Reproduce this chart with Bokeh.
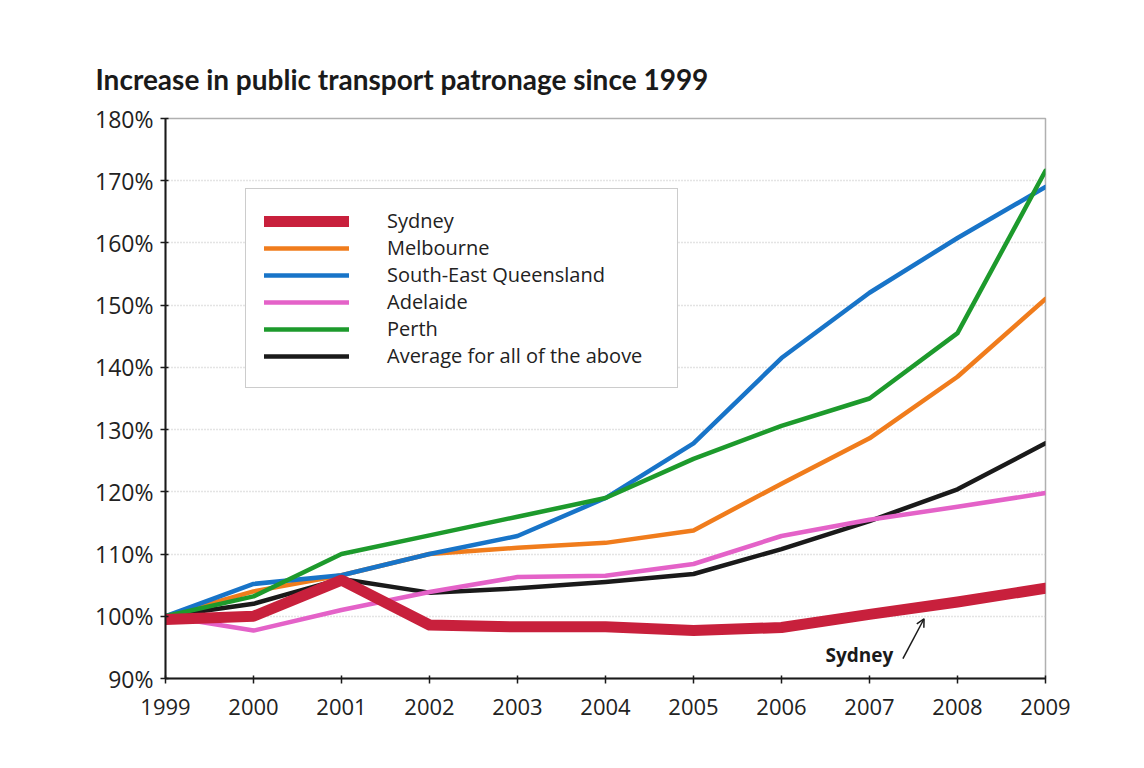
from bokeh.plotting import figure
from bokeh.embed import file_html
from bokeh.resources import INLINE
from bokeh.models import (FixedTicker, PrintfTickFormatter, Legend, LegendItem,
                          Label, Arrow, OpenHead, Range1d)

years = [1999, 2000, 2001, 2002, 2003, 2004, 2005, 2006, 2007, 2008, 2009]
sydney = [99.5, 100.0, 105.8, 98.6, 98.3, 98.3, 97.7, 98.2, 100.3, 102.3, 104.5]
melbourne = [100.0, 104.0, 106.6, 110.0, 111.0, 111.8, 113.8, 121.3, 128.6, 138.5, 151.0]
seq = [100.0, 105.2, 106.6, 110.0, 112.9, 119.0, 127.8, 141.5, 152.0, 160.8, 169.0]
adelaide = [100.0, 97.7, 101.0, 103.9, 106.3, 106.5, 108.4, 112.9, 115.5, 117.6, 119.8]
perth = [100.0, 103.2, 110.0, 113.0, 116.0, 119.0, 125.3, 130.6, 135.0, 145.5, 171.6]
average = [100.0, 102.0, 106.0, 103.8, 104.5, 105.5, 106.8, 110.8, 115.3, 120.4, 127.8]

series_names = ["Sydney", "Melbourne", "South-East Queensland", "Adelaide", "Perth",
                "Average for all of the above"]
series_values = [sydney, melbourne, seq, adelaide, perth, average]
series_colors = ["#c8203c", "#f07c1c", "#1874c8", "#e462c8", "#1d9a2c", "#1a1a1a"]
series_widths = [11, 4.5, 4.5, 4.5, 4.5, 4.5]
y_ticks = [90, 100, 110, 120, 130, 140, 150, 160, 170, 180]
title_text = "Increase in public transport patronage since 1999"

p = figure(width=1128, height=752, output_backend="svg", toolbar_location=None,
           x_range=Range1d(1999, 2009), y_range=Range1d(90, 180),
           min_border_left=165, min_border_right=83, min_border_top=118,
           min_border_bottom=74)

p.title.text = title_text
p.title.text_font = "Lato"
p.title.text_font_size = "28px"
p.title.text_font_style = "bold"
p.title.text_color = "#1a1a1a"
p.title.align = "left"
p.title.offset = -70
p.title.standoff = 45

# drawing order: average, pink, orange, blue, green, sydney on top
order = [5, 3, 1, 2, 4, 0]
renderers = {}
for i in order:
    r = p.line(years, series_values[i], line_color=series_colors[i],
               line_width=series_widths[i], line_join="round", line_cap="round")
    renderers[i] = r

legend = Legend(items=[LegendItem(label=series_names[i], renderers=[renderers[i]])
                       for i in range(6)],
                location=(80, 290), orientation="vertical")
legend.glyph_width = 85
legend.glyph_height = 20
legend.label_height = 20
legend.label_width = 272
legend.spacing = 0
legend.padding = 18
legend.margin = 0
legend.label_standoff = 38
legend.label_text_font = "Open Sans"
legend.label_text_font_size = "20px"
legend.label_text_color = "#222222"
legend.border_line_color = "#999999"
legend.border_line_width = 1.5
legend.background_fill_color = "white"
legend.background_fill_alpha = 1
p.add_layout(legend, "center")

# axes
p.yaxis.ticker = FixedTicker(ticks=y_ticks)
p.yaxis.formatter = PrintfTickFormatter(format="%d%%")
p.xaxis.ticker = FixedTicker(ticks=years)
for ax in (p.xaxis, p.yaxis):
    ax.axis_line_color = "#1a1a1a"
    ax.axis_line_width = 2
    ax.major_tick_line_color = "#1a1a1a"
    ax.major_tick_line_width = 1.5
    ax.major_tick_out = 5
    ax.major_tick_in = 3
    ax.minor_tick_line_color = None
    ax.major_label_text_font = "Open Sans"
    ax.major_label_text_color = "#222222"
p.yaxis.major_label_text_font_size = "23px"
p.xaxis.major_label_text_font_size = "22px"
p.yaxis.major_label_standoff = 7
p.xaxis.major_label_standoff = 15

p.xgrid.grid_line_color = None
p.ygrid.grid_line_color = "#c8c8c8"
p.ygrid.grid_line_dash = "1 2"
p.ygrid.grid_line_width = 1.5
p.outline_line_color = "#b0b0b0"
p.outline_line_width = 1.5

# Sydney annotation
p.add_layout(Label(x=2007.27, y=93.7, text="Sydney", text_align="right",
                   text_baseline="middle", text_font="Open Sans",
                   text_font_size="19px", text_font_style="bold",
                   text_color="#1a1a1a"))
p.add_layout(Arrow(x_start=2007.38, y_start=93.2, x_end=2007.62, y_end=99.6,
                   line_color="#1a1a1a", line_width=1.5,
                   end=OpenHead(size=8, line_color="#1a1a1a", line_width=1.5)))

open("out.html", "w").write(file_html(p, INLINE))
